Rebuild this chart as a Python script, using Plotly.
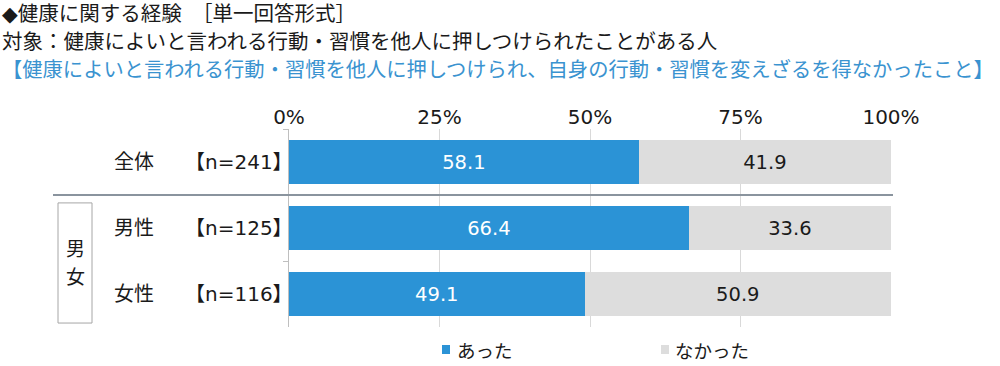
import plotly.graph_objects as go

categories = ["全体", "男性", "女性"]
sample_sizes = ["【n=241】", "【n=125】", "【n=116】"]
atta = [58.1, 66.4, 49.1]
nakatta = [41.9, 33.6, 50.9]
tick_vals = [0, 25, 50, 75, 100]
tick_text = ["0%", "25%", "50%", "75%", "100%"]
series_names = ["あった", "なかった"]
group_label = ["男", "女"]
title_lines = [
    "◆健康に関する経験　［単一回答形式］",
    "対象：健康によいと言われる行動・習慣を他人に押しつけられたことがある人",
    "【健康によいと言われる行動・習慣を他人に押しつけられ、自身の行動・習慣を変えざるを得なかったこと】",
]

FONT = "DejaVu Sans, Noto Sans CJK JP"
CJK = "Noto Sans CJK JP"
BLUE = "#2b93d6"
GRAY = "#dddddd"
TXT = "#1a1a1a"

W, H = 1000, 366
L, R, T, B = 289, 109, 129, 39
PW, PH = W - L - R, H - T - B

def px_x(x):
    return (x - L) / PW

def px_y(y):
    return 1 - (y - T) / PH

fig = go.Figure()
fig.add_trace(go.Bar(
    y=categories, x=atta, orientation="h", name=series_names[0],
    marker=dict(color=BLUE, line=dict(width=0)),
    texttemplate="%{x:.1f}", textposition="inside", insidetextanchor="middle",
    textfont=dict(color="white", size=19.5, family=FONT), showlegend=False,
))
fig.add_trace(go.Bar(
    y=categories, x=nakatta, orientation="h", name=series_names[1],
    marker=dict(color=GRAY, line=dict(width=0)),
    texttemplate="%{x:.1f}", textposition="inside", insidetextanchor="middle",
    textfont=dict(color=TXT, size=19.5, family=FONT), showlegend=False,
))

fig.update_layout(
    width=W, height=H, barmode="stack", bargap=0.33,
    margin=dict(l=L, r=R, t=T, b=B),
    paper_bgcolor="white", plot_bgcolor="white",
    font=dict(family=FONT, color=TXT, size=18),
    xaxis=dict(
        side="top", range=[0, 100], tickvals=tick_vals, ticktext=tick_text,
        showgrid=True, gridcolor="#d9d9d9", gridwidth=1, zeroline=False,
        tickfont=dict(size=20, family=FONT, color=TXT), ticks="",
        fixedrange=True,
    ),
    yaxis=dict(
        autorange="reversed", showticklabels=False, showline=True,
        linecolor="#bfbfbf", linewidth=1, ticks="outside", tickson="boundaries",
        ticklen=5, tickcolor="#bfbfbf", showgrid=False,
    ),
)

# separator line between total and gender breakdown
fig.add_shape(type="line", xref="paper", yref="y", x0=px_x(53), x1=px_x(893),
              y0=0.5, y1=0.5, line=dict(color="#8a949e", width=2))
# group box
fig.add_shape(type="rect", xref="paper", yref="y", x0=px_x(58), x1=px_x(92),
              y0=0.62, y1=2.44, line=dict(color="#a6a6a6", width=1))
for ch, yy in zip(group_label, [247, 275]):
    fig.add_annotation(xref="paper", yref="paper", x=px_x(75), y=px_y(yy), text=ch,
                       showarrow=False, font=dict(size=19, family=CJK, color=TXT),
                       xanchor="center", yanchor="middle")

for cat, n in zip(categories, sample_sizes):
    fig.add_annotation(xref="paper", yref="y", x=px_x(112), y=cat, text=cat,
                       showarrow=False, xanchor="left", yanchor="middle",
                       font=dict(size=20, family=FONT, color=TXT))
    fig.add_annotation(xref="paper", yref="y", x=px_x(295), y=cat, text=n,
                       showarrow=False, xanchor="right", yanchor="middle",
                       font=dict(size=20, family=FONT, color=TXT))

title_colors = [TXT, TXT, "#3a93d0"]
title_y = [14, 42, 70]
title_size = [20.5, 20.5, 20.3]
for line, col, yy, sz in zip(title_lines, title_colors, title_y, title_size):
    fig.add_annotation(xref="paper", yref="paper", x=px_x(0), y=px_y(yy), text=line,
                       showarrow=False, xanchor="left", yanchor="middle",
                       font=dict(size=sz, family=FONT, color=col))

# legend
legend_items = [(series_names[0], BLUE, 442, 455), (series_names[1], GRAY, 661, 673)]
for name, col, sx, tx in legend_items:
    fig.add_shape(type="rect", xref="paper", yref="paper", x0=px_x(sx), x1=px_x(sx + 8),
                  y0=px_y(354), y1=px_y(345), fillcolor=col, line=dict(width=0))
    fig.add_annotation(xref="paper", yref="paper", x=px_x(tx), y=px_y(351), text=name,
                       showarrow=False, xanchor="left", yanchor="middle",
                       font=dict(size=18.5, family=FONT, color=TXT))

fig.write_html("out.html", config={"displayModeBar": False},
               post_script="document.body.style.margin='0';")
